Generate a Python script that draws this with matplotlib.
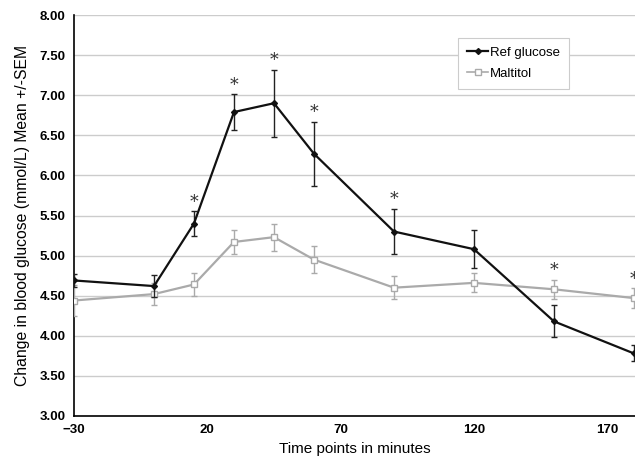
import matplotlib.pyplot as plt
from matplotlib.lines import Line2D
import numpy as np

plt.rcParams['font.family'] = ['Liberation Sans', 'DejaVu Sans']

# --- Dados ---
tempos = [-30, 0, 15, 30, 45, 60, 90, 120, 150, 180]
ref_glicose = [4.69, 4.62, 5.40, 6.79, 6.90, 6.27, 5.30, 5.08, 4.18, 3.78]
ref_sem = [0.08, 0.14, 0.15, 0.22, 0.42, 0.40, 0.28, 0.24, 0.20, 0.10]
maltitol = [4.44, 4.52, 4.64, 5.17, 5.23, 4.95, 4.60, 4.66, 4.58, 4.47]
maltitol_sem = [0.19, 0.14, 0.14, 0.15, 0.17, 0.17, 0.14, 0.12, 0.12, 0.12]
# pontos com diferença significativa
signif = [15, 30, 45, 60, 90, 150, 180]

fig = plt.figure(figsize=(6.35, 4.63), dpi=100)
ax = fig.add_axes([74 / 635, 1 - 416 / 463, 1 - 74 / 635, (416 - 15) / 463])

ax.errorbar(tempos, maltitol, yerr=maltitol_sem, color='#aaaaaa', lw=1.6,
            marker='s', ms=5, mfc='white', mec='#aaaaaa', mew=1,
            ecolor='#aaaaaa', elinewidth=1, capsize=2, zorder=3)
ax.errorbar(tempos, ref_glicose, yerr=ref_sem, color='#111111', lw=1.6,
            marker='D', ms=3, ecolor='#222222', elinewidth=1, capsize=2,
            zorder=4)

# asteriscos acima da barra mais alta
for t in signif:
    i = tempos.index(t)
    topo = max(ref_glicose[i] + ref_sem[i], maltitol[i] + maltitol_sem[i])
    ax.text(t, topo + 0.01, '*', ha='center', va='bottom', fontsize=12.5,
            color='#333333', family='DejaVu Serif')

ax.set_xlim(-30, 180.4)
ax.set_ylim(3.0, 8.0)
ax.set_xticks([-30, 20, 70, 120, 170])
ax.set_yticks(np.arange(3.0, 8.01, 0.5))
ax.set_yticklabels([f'{v:.2f}' for v in np.arange(3.0, 8.01, 0.5)])
ax.tick_params(length=0, labelsize=9.5, pad=6)
for lab in ax.get_xticklabels() + ax.get_yticklabels():
    lab.set_fontweight('bold')

ax.grid(axis='y', color='#cccccc', lw=1)
ax.set_axisbelow(True)
for s in ['top', 'right']:
    ax.spines[s].set_visible(False)
ax.spines['left'].set_linewidth(1.2)
ax.spines['bottom'].set_linewidth(1.2)

ax.set_xlabel('Time points in minutes', fontsize=11, labelpad=4)
ax.set_ylabel('Change in blood glucose (mmol/L) Mean +/-SEM', fontsize=11.3, labelpad=7)

handles = [
    Line2D([], [], color='#111111', lw=1.6, marker='D', ms=3),
    Line2D([], [], color='#aaaaaa', lw=1.2, marker='s', ms=4, mfc='white', mec='#aaaaaa'),
]
leg = ax.legend(handles, ['Ref glucose', 'Maltitol'], loc='upper left',
                bbox_to_anchor=(0.673, 0.96), fontsize=9.5, handlelength=1.6,
                handletextpad=0.1, fancybox=False, edgecolor='#cccccc',
                framealpha=1, borderpad=0.7, labelspacing=0.65)
leg.get_frame().set_linewidth(0.8)

fig.savefig('out.png', dpi=100)
